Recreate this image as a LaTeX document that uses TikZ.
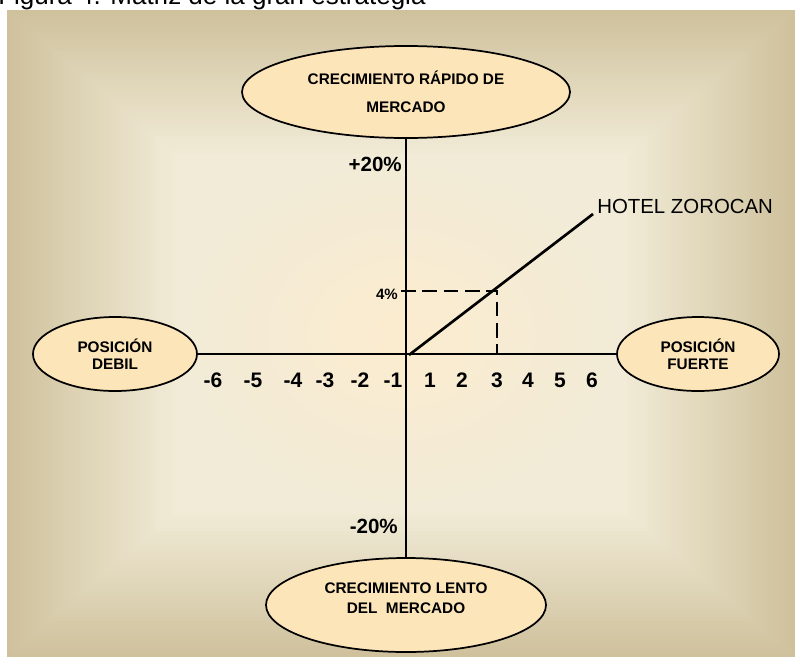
\documentclass[tikz,border=0pt]{standalone}
\usepackage{fontspec}
\setmainfont{Liberation Sans}
\usetikzlibrary{arrows, shapes.geometric, positioning}

\definecolor{fondoborde}{RGB}{207,193,156}
\definecolor{fondomedio}{RGB}{241,235,215}
\definecolor{fondocentro}{RGB}{252,236,207}
\definecolor{elipsefondo}{RGB}{253,229,186}

\begin{document}
\begin{tikzpicture}[x=0.75pt,y=-0.75pt,
	elipse/.style={ellipse, draw, line width=1.3pt, fill=elipsefondo, inner sep=0pt, align=center},
	eje/.style={line width=1.3pt},
	zahl/.style={font=\bfseries\fontsize{15.75}{16}\selectfont, inner sep=0pt}]
	
	\useasboundingbox (0,0) rectangle (795,657);
	
	%Hintergrund
	\foreach \i in {0,...,40}{
		\pgfmathsetmacro{\p}{100-2.5*\i}
		\fill[fondoborde!\p!fondomedio] (7+4.2*\i,10+3.6*\i) rectangle (795-4.2*\i,657-3.6*\i);
	}
	\shade[inner color=fondocentro, outer color=fondomedio] (175,154) rectangle (627,513);
	
	%Titel
	\node (titel) [anchor=base west, inner sep=0pt, font=\fontsize{19.5}{20}\selectfont] at (-2,4) {Figura 4. Matriz de la gran estrategia};
	
	%Knoten
	\node (rapido) [elipse, minimum width=246pt, minimum height=69pt, font=\bfseries\fontsize{11.5}{21}\selectfont] at (406,92) {CRECIMIENTO R\'APIDO DE\\MERCADO};
	\node (lento) [elipse, minimum width=210pt, minimum height=70.5pt,
		label={[align=center, yshift=5.25pt, font=\bfseries\fontsize{11.5}{15}\selectfont]center:{CRECIMIENTO LENTO\\DEL\ \ MERCADO}}] at (406,605) {};
	\node (debil) [elipse, minimum width=123pt, minimum height=55.5pt, font=\bfseries\fontsize{11.5}{12.75}\selectfont] at (115,354) {POSICI\'ON\\DEBIL};
	\node (fuerte) [elipse, minimum width=121.5pt, minimum height=55.5pt, font=\bfseries\fontsize{11.5}{12.75}\selectfont] at (698,354) {POSICI\'ON\\FUERTE};
	
	\coordinate (0) at (409,355);
	\coordinate (hotel) at (593,214);
	\coordinate (4) at (401,291);
	\coordinate (3) at (497,353);
	
	%Kanten
	\draw[eje] (rapido) -- (lento);
	\draw[eje] (debil) -- (fuerte);
	\draw[line width=2pt] (0) -- (hotel);
	\draw[line width=1.3pt, dash pattern=on 11pt off 5pt] (4) -| (3);
	
	%Beschriftung
	\node (hoteltext) [anchor=west, inner sep=0pt, font=\fontsize{15.3}{16}\selectfont] at (597,206) {HOTEL ZOROCAN};
	\node (mas) [anchor=east, inner sep=0pt, font=\bfseries\fontsize{15.4}{16}\selectfont] at (402,164) {+20\%};
	\node (menos) [anchor=east, inner sep=0pt, font=\bfseries\fontsize{15.4}{16}\selectfont] at (398,526) {-20\%};
	\node (cuatro) [anchor=east, inner sep=0pt, font=\bfseries\fontsize{11.25}{12}\selectfont] at (398,294) {4\%};
	
	\foreach \x/\n in {213/-6,253/-5,293/-4,325/-3,360/-2,393/-1,430/1,462/2,497/3,528/4,560/5,592/6}
		\node (z\n) [zahl] at (\x,380) {\n};
	
\end{tikzpicture}
\end{document}
